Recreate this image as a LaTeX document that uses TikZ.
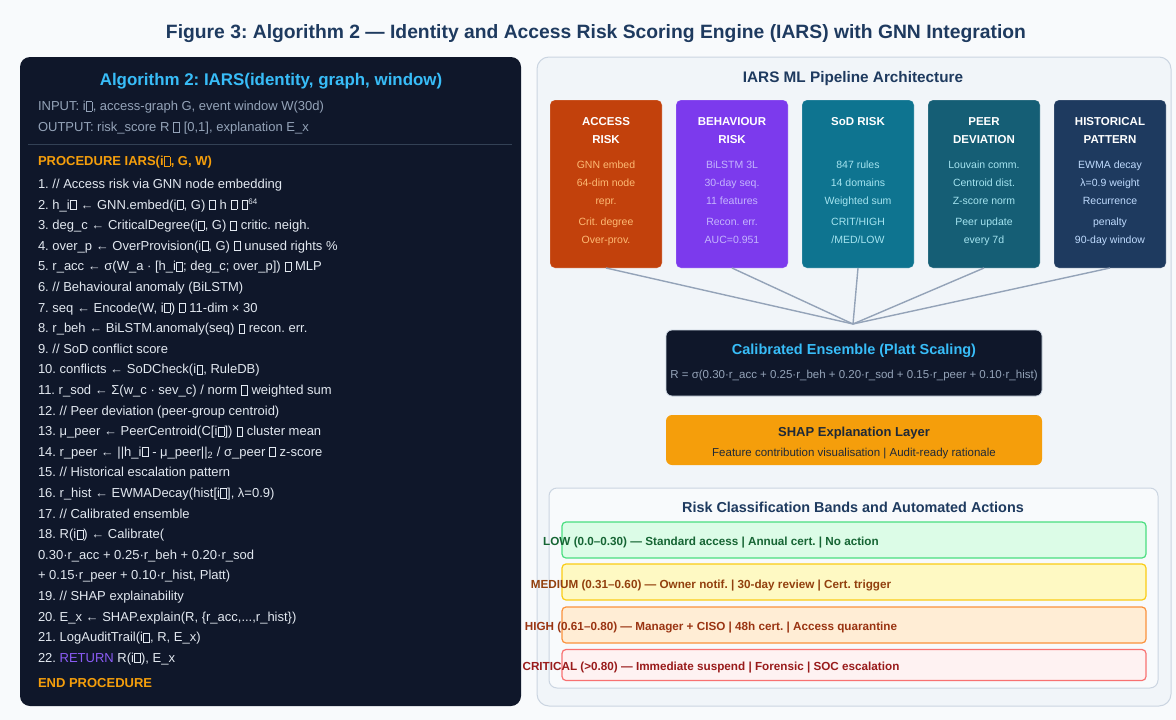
\documentclass[tikz,border=0pt]{standalone}
\usepackage{fontspec}
\setmainfont{Liberation Sans}
\frenchspacing
\newcommand\tofu{{\setlength\fboxsep{0pt}\setlength\fboxrule{0.45pt}\kern0.4pt\fbox{\rule{0pt}{8.6pt}\hspace{5.4pt}}\kern0.4pt}}
\definecolor{bgc}{HTML}{F8FAFC}
\definecolor{navy}{HTML}{0F172A}
\definecolor{titlec}{HTML}{1E3A5F}
\definecolor{sky}{HTML}{38BDF8}
\definecolor{codec}{HTML}{E2E8F0}
\definecolor{mutedc}{HTML}{94A3B8}
\definecolor{amber}{HTML}{F59E0B}
\definecolor{retc}{HTML}{8B5CF6}
\definecolor{sepc}{HTML}{334155}
\definecolor{panelc}{HTML}{F1F5F9}
\definecolor{borderc}{HTML}{CBD5E1}
\definecolor{boxA}{HTML}{C2410C}
\definecolor{boxB}{HTML}{7C3AED}
\definecolor{boxC}{HTML}{0E7490}
\definecolor{boxD}{HTML}{155E75}
\definecolor{boxE}{HTML}{1E3A5F}
\definecolor{bodyA}{HTML}{FDBA74}
\definecolor{bodyB}{HTML}{C4B5FD}
\definecolor{bodyC}{HTML}{A5E4F0}
\definecolor{bodyD}{HTML}{A5E4F0}
\definecolor{bodyE}{HTML}{BFDBFE}
\definecolor{linkc}{HTML}{94A3B8}
\definecolor{shapc}{HTML}{F59E0B}
\definecolor{darkt}{HTML}{1F2937}
\definecolor{lowF}{HTML}{DCFCE7}\definecolor{lowD}{HTML}{4ADE80}\definecolor{lowT}{HTML}{166534}
\definecolor{medF}{HTML}{FEF9C3}\definecolor{medD}{HTML}{FACC15}\definecolor{medT}{HTML}{92400E}
\definecolor{higF}{HTML}{FFEDD5}\definecolor{higD}{HTML}{FB923C}\definecolor{higT}{HTML}{9A3412}
\definecolor{criF}{HTML}{FEF2F2}\definecolor{criD}{HTML}{F87171}\definecolor{criT}{HTML}{991B1B}
\begin{document}
\begin{tikzpicture}[x=1pt,y=-1pt,
  every node/.style={inner sep=0pt, outer sep=0pt},
  code/.style={anchor=base west, font=\fontsize{13}{15}\selectfont, text=codec},
  muted/.style={anchor=base west, font=\fontsize{13}{15}\selectfont, text=mutedc},
  proc/.style={anchor=base west, font=\bfseries\fontsize{13}{15}\selectfont, text=amber},
  pbox/.style={rounded corners=5pt, minimum width=112pt, minimum height=168pt, draw=white, draw opacity=0.25, line width=0.6pt},
  ptitle/.style={anchor=base, font=\bfseries\fontsize{11.5}{13}\selectfont, text=white},
  pbody/.style={anchor=base, font=\fontsize{10.5}{12}\selectfont},
  link/.style={draw=linkc, line width=1.4pt},
  band/.style={rounded corners=4pt, minimum width=584pt, line width=1.2pt},
  bandtext/.style={anchor=base, font=\bfseries\fontsize{11.7}{13}\selectfont}
]
\fill[bgc] (0,0) rectangle (1176,720);
\useasboundingbox (0,0) rectangle (1176,720);

% main title
\node[anchor=base, font=\bfseries\fontsize{19.3}{21}\selectfont, text=titlec] (title) at (596,38.8)
  {Figure 3: Algorithm 2 — Identity and Access Risk Scoring Engine (IARS) with GNN Integration};

% ---------- left panel ----------
\node[fill=navy, rounded corners=10pt, minimum width=501pt, minimum height=649pt] (left) at (270.5,381.5) {};
\node[anchor=base, font=\bfseries\fontsize{16.9}{18}\selectfont, text=sky] (algt) at (271,85)
  {Algorithm 2: IARS(identity, graph, window)};
\node[muted] (inp) at (38,110.5) {INPUT: i\tofu, access-graph G, event window W(30d)};
\node[muted] (outp) at (38,131.5) {OUTPUT: risk\_score R \tofu{} [0,1], explanation E\_x};
\coordinate (sepL) at (28,144);
\coordinate (sepR) at (512,144);
\draw[sepc, line width=1pt] (sepL) -- (sepR);
\node[proc] (proch) at (38,165.5) {PROCEDURE IARS(i\tofu, G, W)};
\node[code] (l1) at (38,188.5) {1. // Access risk via GNN node embedding};
\node[code] (l2) at (38,209.1) {2. h\_i\tofu{} ← GNN.embed(i\tofu, G) \tofu{} h \tofu{} \tofu{}\textsuperscript{\fontsize{8}{9}\selectfont 64}};
\node[code] (l3) at (38,229.7) {3. deg\_c ← CriticalDegree(i\tofu, G) \tofu{} critic. neigh.};
\node[code] (l4) at (38,250.3) {4. over\_p ← OverProvision(i\tofu, G) \tofu{} unused rights \%};
\node[code] (l5) at (38,270.9) {5. r\_acc ← σ(W\_a · [h\_i\tofu; deg\_c; over\_p]) \tofu{} MLP};
\node[code] (l6) at (38,291.5) {6. // Behavioural anomaly (BiLSTM)};
\node[code] (l7) at (38,312.1) {7. seq ← Encode(W, i\tofu) \tofu{} 11-dim × 30};
\node[code] (l8) at (38,332.7) {8. r\_beh ← BiLSTM.anomaly(seq) \tofu{} recon. err.};
\node[code] (l9) at (38,353.3) {9. // SoD conflict score};
\node[code] (l10) at (38,373.9) {10. conflicts ← SoDCheck(i\tofu, RuleDB)};
\node[code] (l11) at (38,394.5) {11. r\_sod ← Σ(w\_c · sev\_c) / norm \tofu{} weighted sum};
\node[code] (l12) at (38,415.1) {12. // Peer deviation (peer-group centroid)};
\node[code] (l13) at (38,435.7) {13. μ\_peer ← PeerCentroid(C[i\tofu]) \tofu{} cluster mean};
\node[code] (l14) at (38,456.3) {14. r\_peer ← ||h\_i\tofu{} - μ\_peer||\textsubscript{2} / σ\_peer \tofu{} z-score};
\node[code] (l15) at (38,476.9) {15. // Historical escalation pattern};
\node[code] (l16) at (38,497.5) {16. r\_hist ← EWMADecay(hist[i\tofu], λ=0.9)};
\node[code] (l17) at (38,518.1) {17. // Calibrated ensemble};
\node[code] (l18) at (38,538.7) {18. R(i\tofu) ← Calibrate(};
\node[code] (l18b) at (38,559.3) {0.30·r\_acc + 0.25·r\_beh + 0.20·r\_sod};
\node[code] (l18c) at (38,579.9) {+ 0.15·r\_peer + 0.10·r\_hist, Platt)};
\node[code] (l19) at (38,600.5) {19. // SHAP explainability};
\node[code] (l20) at (38,621.1) {20. E\_x ← SHAP.explain(R, \{r\_acc,...,r\_hist\})};
\node[code] (l21) at (38,641.7) {21. LogAuditTrail(i\tofu, R, E\_x)};
\node[code] (l22) at (38,662.3) {22. {\color{retc}RETURN} R(i\tofu), E\_x};
\node[proc] (endp) at (38,687.5) {END PROCEDURE};

% ---------- right panel ----------
\node[fill=panelc, draw=borderc, line width=1pt, rounded corners=12pt, minimum width=634pt, minimum height=649pt] (right) at (854,381.5) {};
\node[anchor=base, font=\bfseries\fontsize{15.3}{17}\selectfont, text=titlec] (pipet) at (853,82.3) {IARS ML Pipeline Architecture};

% pipeline boxes
\node[pbox, fill=boxA] (b1) at (606,184) {};
\node[pbox, fill=boxB] (b2) at (732,184) {};
\node[pbox, fill=boxC] (b3) at (858,184) {};
\node[pbox, fill=boxD] (b4) at (984,184) {};
\node[pbox, fill=boxE] (b5) at (1110,184) {};

\node[ptitle] (b1t1) at (606,125.1) {ACCESS};
\node[ptitle] (b1t2) at (606,143.1) {RISK};
\node[pbody, text=bodyA] (b1a) at (606,168.8) {GNN embed};
\node[pbody, text=bodyA] (b1b) at (606,186.8) {64-dim node};
\node[pbody, text=bodyA] (b1c) at (606,204.8) {repr.};
\node[pbody, text=bodyA] (b1d) at (606,225.8) {Crit. degree};
\node[pbody, text=bodyA] (b1e) at (606,243.8) {Over-prov.};

\node[ptitle] (b2t1) at (732,125.1) {BEHAVIOUR};
\node[ptitle] (b2t2) at (732,143.1) {RISK};
\node[pbody, text=bodyB] (b2a) at (732,168.8) {BiLSTM 3L};
\node[pbody, text=bodyB] (b2b) at (732,186.8) {30-day seq.};
\node[pbody, text=bodyB] (b2c) at (732,204.8) {11 features};
\node[pbody, text=bodyB] (b2d) at (732,225.8) {Recon. err.};
\node[pbody, text=bodyB] (b2e) at (732,243.8) {AUC=0.951};

\node[ptitle] (b3t1) at (858,125.1) {SoD RISK};
\node[pbody, text=bodyC] (b3a) at (858,168.8) {847 rules};
\node[pbody, text=bodyC] (b3b) at (858,186.8) {14 domains};
\node[pbody, text=bodyC] (b3c) at (858,204.8) {Weighted sum};
\node[pbody, text=bodyC] (b3d) at (858,225.8) {CRIT/HIGH};
\node[pbody, text=bodyC] (b3e) at (858,243.8) {/MED/LOW};

\node[ptitle] (b4t1) at (984,125.1) {PEER};
\node[ptitle] (b4t2) at (984,143.1) {DEVIATION};
\node[pbody, text=bodyD] (b4a) at (984,168.8) {Louvain comm.};
\node[pbody, text=bodyD] (b4b) at (984,186.8) {Centroid dist.};
\node[pbody, text=bodyD] (b4c) at (984,204.8) {Z-score norm};
\node[pbody, text=bodyD] (b4d) at (984,225.8) {Peer update};
\node[pbody, text=bodyD] (b4e) at (984,243.8) {every 7d};

\node[ptitle] (b5t1) at (1110,125.1) {HISTORICAL};
\node[ptitle] (b5t2) at (1110,143.1) {PATTERN};
\node[pbody, text=bodyE] (b5a) at (1110,168.8) {EWMA decay};
\node[pbody, text=bodyE] (b5b) at (1110,186.8) {λ=0.9 weight};
\node[pbody, text=bodyE] (b5c) at (1110,204.8) {Recurrence};
\node[pbody, text=bodyE] (b5d) at (1110,225.8) {penalty};
\node[pbody, text=bodyE] (b5e) at (1110,243.8) {90-day window};

% connectors
\coordinate (hub) at (853,324);
\foreach \b in {b1,b2,b3,b4,b5}{\draw[link] (\b.south) -- (hub);}

% ensemble
\node[fill=navy, draw=borderc, line width=0.8pt, rounded corners=6pt, minimum width=376pt, minimum height=66pt] (ens) at (854,363) {};
\node[anchor=base, font=\bfseries\fontsize{14.5}{16}\selectfont, text=sky] (enst) at (854,354.2) {Calibrated Ensemble (Platt Scaling)};
\node[anchor=base, font=\fontsize{11.5}{13}\selectfont, text=mutedc] (ensf) at (854,378) {R = σ(0.30·r\_acc + 0.25·r\_beh + 0.20·r\_sod + 0.15·r\_peer + 0.10·r\_hist)};

% SHAP
\node[fill=shapc, rounded corners=6pt, minimum width=376pt, minimum height=50pt] (shap) at (854,440) {};
\node[anchor=base, font=\bfseries\fontsize{13}{15}\selectfont, text=darkt] (shapt) at (854,436.6) {SHAP Explanation Layer};
\node[anchor=base, font=\fontsize{11.5}{13}\selectfont, text=darkt] (shaps) at (854,456) {Feature contribution visualisation | Audit-ready rationale};

% bands panel
\node[fill=bgc, draw=borderc, line width=1pt, rounded corners=8pt, minimum width=609pt, minimum height=200pt] (bandp) at (853.5,588) {};
\node[anchor=base, font=\bfseries\fontsize{14.4}{16}\selectfont, text=titlec] (bandt) at (853,512.2) {Risk Classification Bands and Automated Actions};

\node[band, fill=lowF, draw=lowD, minimum height=36pt] (low) at (854,540) {};
\node[band, fill=medF, draw=medD, minimum height=36pt] (med) at (854,582) {};
\node[band, fill=higF, draw=higD, minimum height=36pt] (hig) at (854,625) {};
\node[band, fill=criF, draw=criD, minimum height=31pt] (cri) at (854,665) {};
\node[bandtext, text=lowT] (lowt) at (711,545.2) {LOW (0.0–0.30) — Standard access | Annual cert. | No action};
\node[bandtext, text=medT] (medt) at (711,588.2) {MEDIUM (0.31–0.60) — Owner notif. | 30-day review | Cert. trigger};
\node[bandtext, text=higT] (higt) at (711,630.2) {HIGH (0.61–0.80) — Manager + CISO | 48h cert. | Access quarantine};
\node[bandtext, text=criT] (crit) at (711,670.2) {CRITICAL (>0.80) — Immediate suspend | Forensic | SOC escalation};
\end{tikzpicture}
\end{document}
